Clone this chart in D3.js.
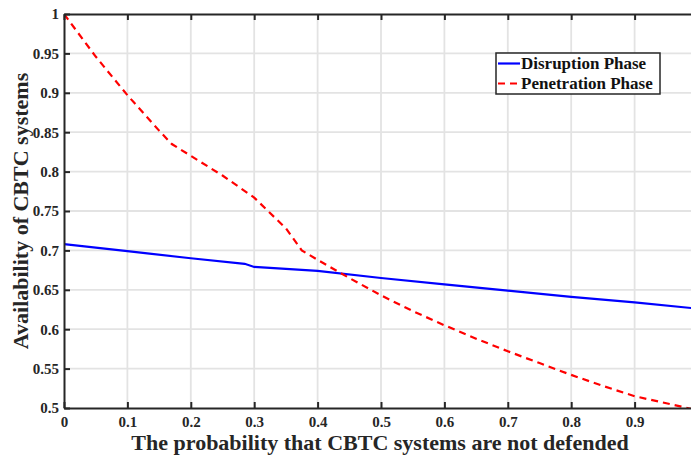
<!DOCTYPE html>
<html>
<head>
<meta charset="utf-8">
<script src="https://cdn.jsdelivr.net/npm/d3@7"></script>
<style>
  body { margin: 0; background: #fff; }
  svg { display: block; font-family: "Liberation Serif", "Times New Roman", serif; }
</style>
</head>
<body>
<div id="chart"></div>
<script>
    // Data
    const disruptionX = [0, 0.1, 0.2, 0.285, 0.3, 0.4, 0.5, 0.6, 0.7, 0.8, 0.9, 1.0];
    const disruptionY = [0.708, 0.699, 0.690, 0.683, 0.679, 0.674, 0.665, 0.657, 0.649, 0.641, 0.634, 0.626];

    const penetrationX = [0, 0.05, 0.1, 0.15, 0.17, 0.2, 0.25, 0.3, 0.35, 0.375, 0.4, 0.45, 0.5, 0.55, 0.6, 0.65, 0.7, 0.75, 0.8, 0.85, 0.9, 0.95, 1.0];
    const penetrationY = [1.0, 0.946, 0.897, 0.852, 0.835, 0.82, 0.795, 0.767, 0.728, 0.70, 0.688, 0.665, 0.643, 0.623, 0.605, 0.588, 0.572, 0.557, 0.542, 0.528, 0.515, 0.506, 0.497];

    const xTicks = [0, 0.1, 0.2, 0.3, 0.4, 0.5, 0.6, 0.7, 0.8, 0.9, 1.0];
    const yTicks = [0.5, 0.55, 0.6, 0.65, 0.7, 0.75, 0.8, 0.85, 0.9, 0.95, 1];
    const seriesNames = ["Disruption Phase", "Penetration Phase"];

    // The svg
    const width = 691;
    const height = 456;
    const svg = d3.select("#chart").append("svg")
      .attr("width", width)
      .attr("height", height);

    const plotLeft = 64, plotTop = 14, plotRight = 698, plotBottom = 408;

    const x = d3.scaleLinear().domain([0, 1]).range([plotLeft, plotRight]);
    const y = d3.scaleLinear().domain([0.5, 1]).range([plotBottom, plotTop]);

    svg.append("defs").append("clipPath").attr("id", "plotclip")
      .append("rect")
      .attr("x", plotLeft).attr("y", plotTop)
      .attr("width", plotRight - plotLeft).attr("height", plotBottom - plotTop);

    // grid
    const grid = svg.append("g");
    grid.selectAll(".vg")
      .data(xTicks.slice(1, -1))
      .join("line")
      .attr("x1", d => x(d)).attr("x2", d => x(d))
      .attr("y1", plotTop).attr("y2", plotBottom)
      .attr("stroke", "#e3e3e3")
      .attr("stroke-width", 1.8);
    grid.selectAll(".hg")
      .data(yTicks.slice(1, -1))
      .join("line")
      .attr("x1", plotLeft).attr("x2", plotRight)
      .attr("y1", d => y(d)).attr("y2", d => y(d))
      .attr("stroke", "#e3e3e3")
      .attr("stroke-width", 1.8);

    // lines
    const line = d3.line().x(d => x(d[0])).y(d => y(d[1]));
    const plot = svg.append("g").attr("clip-path", "url(#plotclip)");

    plot.append("path")
      .datum(disruptionX.map((v, i) => [v, disruptionY[i]]))
      .attr("d", line)
      .attr("fill", "none")
      .attr("stroke", "#0000ff")
      .attr("stroke-width", 2.2);

    plot.append("path")
      .datum(penetrationX.map((v, i) => [v, penetrationY[i]]))
      .attr("d", line)
      .attr("fill", "none")
      .attr("stroke", "#ff0000")
      .attr("stroke-width", 2.2)
      .attr("stroke-dasharray", "7,5");

    // axes (box with inward ticks)
    const axisColor = "#262626";
    const fmt = d => String(+d.toFixed(2));
    const xAxisB = d3.axisBottom(x).tickValues(xTicks.slice(0, -1)).tickSizeInner(-6).tickSizeOuter(0).tickPadding(8).tickFormat(fmt);
    const yAxisL = d3.axisLeft(y).tickValues(yTicks).tickSizeInner(-6).tickSizeOuter(0).tickPadding(5).tickFormat(fmt);

    const gx = svg.append("g").attr("transform", `translate(0,${plotBottom})`).call(xAxisB);
    const gy = svg.append("g").attr("transform", `translate(${plotLeft},0)`).call(yAxisL);
    const gxt = svg.append("g").attr("transform", `translate(0,${plotTop})`)
      .call(d3.axisTop(x).tickValues(xTicks.slice(0, -1)).tickSizeInner(-6).tickSizeOuter(0).tickFormat(""));
    const gyr = svg.append("g").attr("transform", `translate(${plotRight},0)`)
      .call(d3.axisRight(y).tickValues(yTicks).tickSizeInner(-6).tickSizeOuter(0).tickFormat(""));

    [gx, gy, gxt, gyr].forEach(g => {
      g.select(".domain").attr("stroke", axisColor).attr("stroke-width", 2);
      g.selectAll(".tick line").attr("stroke", axisColor).attr("stroke-width", 2);
      g.selectAll(".tick text")
        .attr("fill", "#262626")
        .style("font-family", "'Liberation Serif', serif")
        .style("font-weight", "bold")
        .style("font-size", "15px");
    });

    // axis titles
    svg.append("text")
      .attr("x", (plotLeft + plotRight) / 2 - 1)
      .attr("y", 450)
      .attr("text-anchor", "middle")
      .style("font-weight", "bold")
      .style("font-size", "22px")
      .attr("fill", "#262626")
      .text("The probability that CBTC systems are not defended");

    svg.append("text")
      .attr("transform", `translate(28,${(plotTop + plotBottom) / 2}) rotate(-90)`)
      .attr("text-anchor", "middle")
      .style("font-weight", "bold")
      .style("font-size", "22px")
      .attr("fill", "#262626")
      .text("Availability of CBTC systems");

    // legend
    const legend = svg.append("g");
    legend.append("rect")
      .attr("x", 496).attr("y", 53)
      .attr("width", 164).attr("height", 41)
      .attr("fill", "#fff")
      .attr("stroke", axisColor)
      .attr("stroke-width", 1.5);

    const legendRows = legend.selectAll(".row")
      .data(seriesNames)
      .join("g")
      .attr("transform", (d, i) => `translate(0,${63.5 + i * 20})`);

    legendRows.append("line")
      .attr("x1", 498).attr("x2", 520)
      .attr("y1", 0).attr("y2", 0)
      .attr("stroke", (d, i) => i === 0 ? "#0000ff" : "#ff0000")
      .attr("stroke-width", 2.2)
      .attr("stroke-dasharray", (d, i) => i === 0 ? null : "7,5");

    legendRows.append("text")
      .attr("x", 521)
      .attr("y", 5.5)
      .style("font-weight", "bold")
      .style("font-size", "17px")
      .attr("fill", "#111")
      .text(d => d);
</script>
</body>
</html>
